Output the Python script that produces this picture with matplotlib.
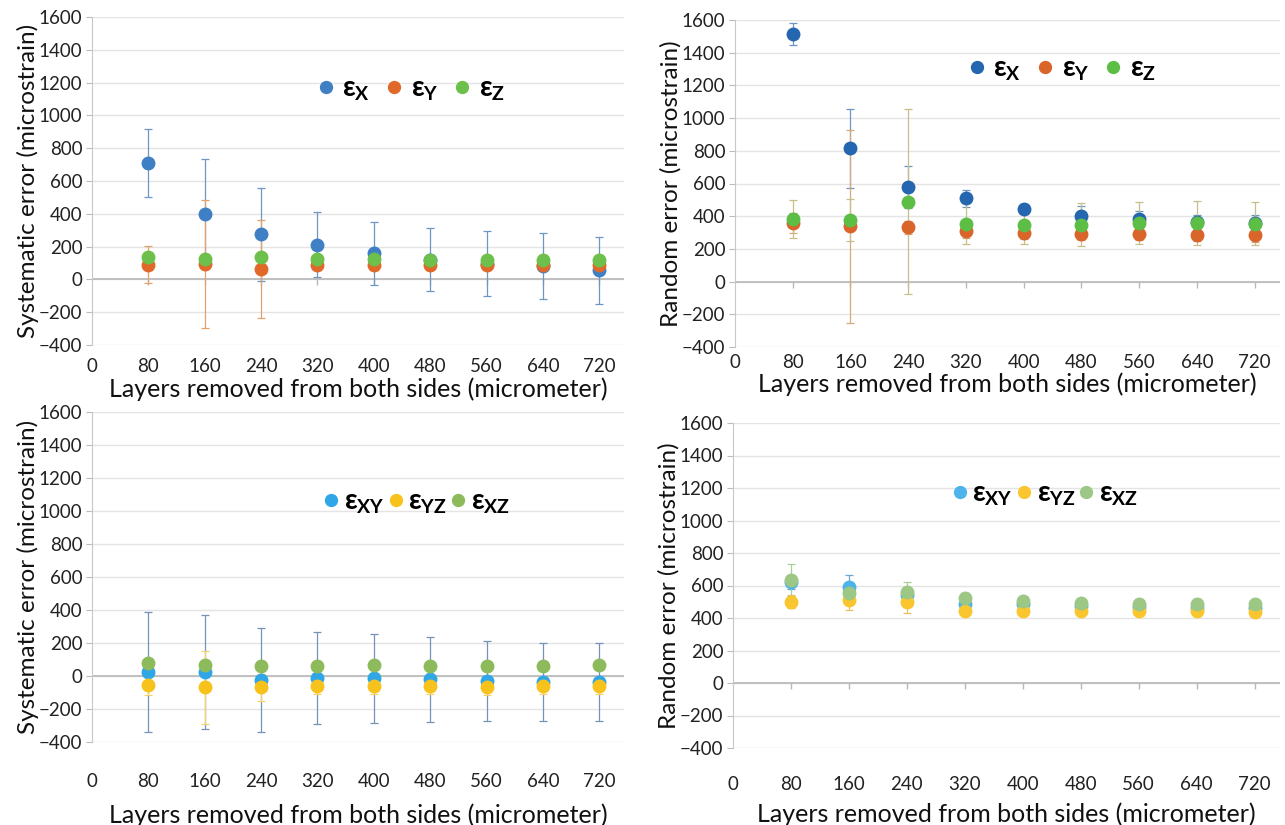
import matplotlib
matplotlib.use("Agg")
import matplotlib.pyplot as plt
import numpy as np

plt.rcParams['font.family'] = ['Lato', 'DejaVu Sans']
plt.rcParams['mathtext.fontset'] = 'custom'
plt.rcParams['mathtext.rm'] = 'Open Sans:bold'
plt.rcParams['mathtext.it'] = 'Open Sans:italic'
plt.rcParams['mathtext.bf'] = 'Open Sans:bold'

# layers removed (micrometer)
layers = [80, 160, 240, 320, 400, 480, 560, 640, 720]
xticks = [0, 80, 160, 240, 320, 400, 480, 560, 640, 720]
yticks = [-400, -200, 0, 200, 400, 600, 800, 1000, 1200, 1400, 1600]

# systematic error, normal strains
sys_x = [709, 400, 275, 212, 160, 120, 96, 81, 55]
sys_x_err = [207, 335, 283, 200, 193, 193, 199, 200, 205]
sys_y = [89, 95, 63, 89, 89, 89, 89, 89, 89]
sys_y_err = [112, 390, 300, 30, 30, 30, 30, 30, 30]
sys_z = [137, 127, 139, 127, 127, 119, 119, 121, 119]
sys_z_err = [20, 20, 20, 20, 20, 20, 20, 20, 20]

# random error, normal strains
rand_x = [1515, 816, 578, 510, 445, 400, 382, 365, 360]
rand_x_err = [68, 241, 126, 53, 30, 60, 50, 45, 45]
rand_y = [359, 339, 331, 308, 298, 292, 292, 288, 284]
rand_y_err = [60, 590, 40, 40, 40, 40, 40, 40, 40]
rand_z = [384, 378, 488, 353, 349, 349, 359, 359, 355]
rand_z_err = [118, 128, 565, 125, 120, 130, 130, 135, 132]

# systematic error, shear strains
sys_xy = [25, 23, -25, -11, -15, -21, -29, -34, -34]
sys_xy_err = [365, 345, 315, 280, 267, 255, 242, 237, 237]
sys_yz = [-57, -69, -69, -61, -61, -61, -65, -61, -61]
sys_yz_err = [60, 220, 80, 50, 50, 50, 50, 50, 50]
sys_xz = [76, 69, 63, 63, 65, 59, 59, 63, 65]
sys_xz_err = [25, 25, 25, 25, 25, 25, 25, 25, 25]

# random error, shear strains
rand_xy = [620, 590, 544, 484, 484, 473, 467, 462, 462]
rand_xy_err = [40, 75, 40, 30, 30, 30, 30, 30, 30]
rand_yz = [499, 512, 501, 445, 441, 441, 441, 441, 437]
rand_yz_err = [40, 60, 70, 20, 20, 20, 20, 20, 20]
rand_xz = [634, 555, 559, 522, 505, 490, 484, 484, 484]
rand_xz_err = [100, 50, 60, 30, 30, 30, 30, 30, 30]

lab_n = [r'ε$_\mathregular{X}$', r'ε$_\mathregular{Y}$', r'ε$_\mathregular{Z}$']
lab_s = [r'ε$_\mathregular{XY}$', r'ε$_\mathregular{YZ}$', r'ε$_\mathregular{XZ}$']

xlabel = "Layers removed from both sides (micrometer)"


def panel(rect, series, colors, ecolors, labels, ylabel, leg_xy, colsp,
          txtpad, tpad, lpad):
    ax = fig.add_axes(rect)
    handles = []
    for (y, e), c, ec, lb in zip(series, colors, ecolors, labels):
        eb = ax.errorbar(layers, y, yerr=e, fmt='o', ms=9, color=c, mec=c,
                         ecolor=ec, elinewidth=0.9, capsize=3, capthick=0.9,
                         label=lb)
        handles.append(eb.lines[0])
    ax.set_xlim(0, 755)
    ax.set_ylim(-400, 1600)
    ax.set_yticks(yticks)
    ax.set_xticks(xticks)
    ax.tick_params(axis='x', length=0, labelsize=13.5, pad=tpad,
                   colors='#222222')
    ax.tick_params(axis='y', length=4, labelsize=13.5, pad=3,
                   colors='#bbbbbb', labelcolor='#222222')
    ax.grid(axis='y', color='#e4e4e4', lw=1)
    ax.set_axisbelow(True)
    for s in ['top', 'right', 'bottom']:
        ax.spines[s].set_visible(False)
    ax.spines['left'].set_color('#c8c8c8')
    ax.axhline(0, color='#b8b8b8', lw=1.2, zorder=1)
    # small category ticks on the zero line
    ax.plot(layers, np.zeros(len(layers)), ls='none', marker=3, ms=4,
            color='#b8b8b8', zorder=1)
    ax.set_ylabel(ylabel, fontsize=17.5, labelpad=0, color='#111111')
    ax.set_xlabel(xlabel, fontsize=18, labelpad=lpad, color='#111111')
    ax.legend(handles, labels, ncol=3, loc='center', bbox_to_anchor=leg_xy,
              frameon=False, prop=dict(size=20, weight='bold'),
              handletextpad=txtpad, columnspacing=colsp, markerscale=0.95,
              handlelength=0.6)
    return ax


fig = plt.figure(figsize=(12.85, 8.25), dpi=100)

panel([92 / 1285, 1 - 345 / 825, 532 / 1285, 328 / 825],
      [(sys_x, sys_x_err), (sys_y, sys_y_err), (sys_z, sys_z_err)],
      ['#3F7FC4', '#E0692A', '#6DC04B'],
      ['#6E96C2', '#E3A06A', '#8CCB74'],
      lab_n, "Systematic error (microstrain)", (0.6, 0.78), 0.55, 0.3, 9, 2)

panel([735 / 1285, 1 - 347 / 825, 545 / 1285, 327 / 825],
      [(rand_x, rand_x_err), (rand_y, rand_y_err), (rand_z, rand_z_err)],
      ['#2566B0', '#D9652A', '#5DBE46'],
      ['#6E96C2', '#D8A878', '#C8BE88'],
      lab_n, "Random error (microstrain)", (0.6, 0.85), 0.55, 0.3, 5, 1)

panel([92 / 1285, 1 - 742 / 825, 532 / 1285, 330 / 825],
      [(sys_xy, sys_xy_err), (sys_yz, sys_yz_err), (sys_xz, sys_xz_err)],
      ['#2FA6E6', '#F8C21C', '#8DBB5C'],
      ['#7394B8', '#F5D36A', '#B5D49A'],
      lab_s, "Systematic error (microstrain)", (0.61, 0.725), 0.1, 0.15, 22, 10)

panel([733 / 1285, 1 - 748 / 825, 547 / 1285, 325 / 825],
      [(rand_xy, rand_xy_err), (rand_yz, rand_yz_err), (rand_xz, rand_xz_err)],
      ['#4DB3EA', '#F9C630', '#9CC784'],
      ['#6FA6D0', '#E8C060', '#A8D094'],
      lab_s, "Random error (microstrain)", (0.57, 0.78), 0.1, 0.15, 20, 7)

fig.savefig("out.png", dpi=100)
